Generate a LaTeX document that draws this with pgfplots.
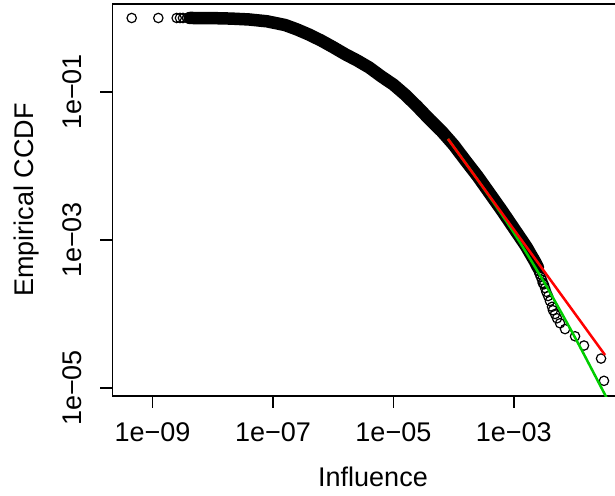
\documentclass[border=0pt]{standalone}
\usepackage{pgfplots}
\pgfplotsset{compat=1.18}
\usepackage{fontspec}
\setmainfont{Liberation Sans}
\definecolor{fitred}{RGB}{255,0,0}
\definecolor{fitgreen}{RGB}{0,205,0}

\begin{document}
\begin{tikzpicture}
\useasboundingbox (0,0) rectangle (615bp,496bp);
\clip (0,0) rectangle (615bp,496bp);
\begin{axis}[
    at={(112.5bp,100bp)}, anchor=south west,
    scale only axis, width=521bp, height=392bp,
    xmode=log, ymode=log,
    xmin=2.158e-10, xmax=0.0973,
    ymin=7.798e-6, ymax=1.545,
    clip marker paths=true,
    xtick={1e-9,1e-7,1e-5,1e-3},
    xticklabels={1e−09,1e−07,1e−05,1e−03},
    ytick={1e-5,1e-3,1e-1},
    yticklabels={1e−05,1e−03,1e−01},
    xminorticks=false, yminorticks=false,
    xtick pos=bottom, ytick pos=left,
    tick align=outside, major tick length=12bp,
    axis line style={line width=1.4bp},
    every tick/.style={black, line width=1.4bp},
    tick label style={font=\fontsize{27bp}{32bp}\selectfont, inner sep=0pt},
    xticklabel style={anchor=base},
    xticklabel shift=34bp,
    yticklabel style={rotate=90, anchor=base},
    yticklabel shift=18.5bp,
    label style={font=\fontsize{27bp}{32bp}\selectfont, inner sep=0pt},
    xlabel={Influence},
    xlabel style={at={(axis description cs:0.5,-0.2321)}, anchor=base},
    ylabel={Empirical CCDF},
    ylabel style={at={(axis description cs:-0.1507,0.5)}, anchor=base, rotate=0},
]
% dense part of the empirical CCDF
\addplot[black, line width=12.5bp, line cap=round, line join=round,
    mark=o, mark size=4.7bp, mark options={line width=1.2bp}] coordinates {
    (4.169e-9,1) (1e-8,0.9954) (1.995e-8,0.9817) (3.981e-8,0.9550)
    (7.943e-8,0.9016) (1.585e-7,0.8035) (2.512e-7,0.6998) (3.981e-7,0.5957)
    (6.310e-7,0.4955) (1e-6,0.4027) (1.585e-6,0.3236) (2.512e-6,0.2661)
    (3.981e-6,0.2138) (6.310e-6,0.1622) (1e-5,0.1259) (1.585e-5,0.09120)
    (2.512e-5,0.06310) (3.981e-5,0.04266) (6.310e-5,0.02951) (1e-4,0.01928)
    (1.585e-4,0.01175) (2.512e-4,0.007244) (3.981e-4,0.004266) (6.310e-4,0.002512)
    (1e-3,0.001445) (1.585e-3,0.000832) (2.239e-3,0.000513) (2.512e-3,0.000427)
};
% sparse points at both ends
\addplot[only marks, mark=o, mark size=4.7bp, mark options={line width=1.2bp}] coordinates {
    (4.498e-10,1) (1.245e-9,1) (2.512e-9,1) (2.851e-9,1) (3.199e-9,1)
    (3.724e-9,1) (4.178e-9,1)
    (1.778e-3,7.586e-4) (1.905e-3,6.761e-4) (1.995e-3,6.166e-4) (2.188e-3,5.495e-4)
    (2.291e-3,5.012e-4) (2.399e-3,4.571e-4) (2.512e-3,4.169e-4) (2.570e-3,3.802e-4)
    (2.692e-3,3.467e-4) (2.818e-3,3.162e-4) (2.951e-3,2.884e-4) (3.020e-3,2.630e-4)
    (3.162e-3,2.512e-4) (3.311e-3,2.239e-4) (3.467e-3,1.995e-4) (3.715e-3,1.750e-4)
    (3.981e-3,1.500e-4) (4.315e-3,1.250e-4) (4.467e-3,1.125e-4) (4.842e-3,1.0e-4)
    (5.224e-3,8.75e-5) (5.861e-3,7.5e-5) (7.096e-3,6.25e-5) (1.040e-2,5.0e-5)
    (1.466e-2,3.75e-5) (2.812e-2,2.5e-5) (3.148e-2,1.25e-5)
};
% fitted curves
\addplot[fitgreen, line width=2.5bp, smooth] coordinates {
    (8.07e-5,0.02317) (3.162e-4,0.004989) (1e-3,0.001253)
    (3.162e-3,0.0002710) (1e-2,5.105e-5) (3.162e-2,8.57e-6) (5.012e-2,4.2e-6)
};
\addplot[fitred, line width=2.5bp] coordinates {
    (8.07e-5,0.02317) (3.273e-2,2.793e-5)
};
\end{axis}
\end{tikzpicture}
\end{document}
